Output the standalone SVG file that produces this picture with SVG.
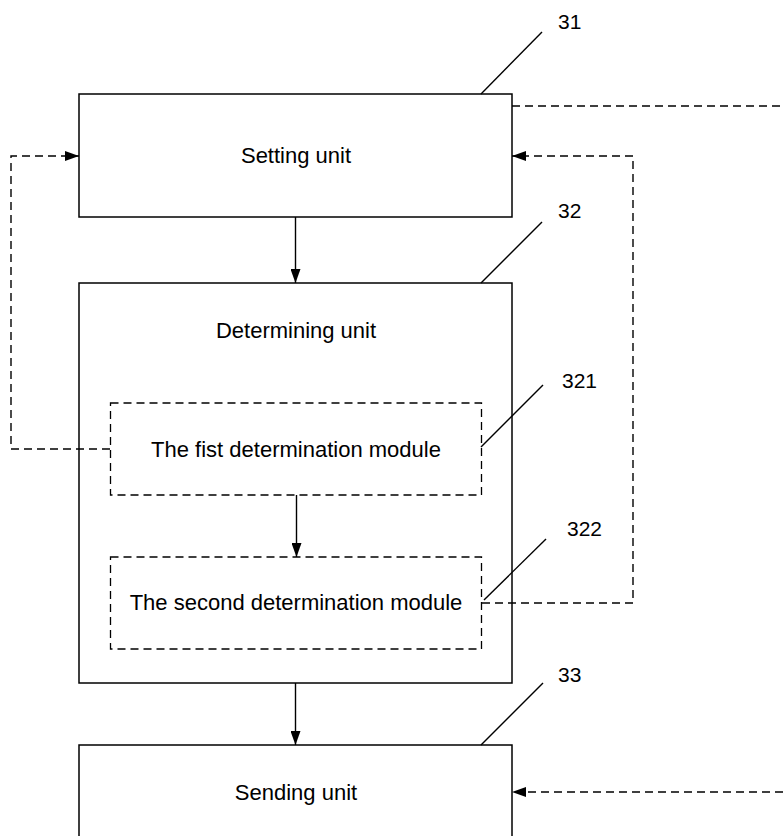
<svg xmlns="http://www.w3.org/2000/svg" width="783" height="836" viewBox="0 0 783 836">
<style>
.box{fill:#fff;stroke:#000;stroke-width:1.5}
.mod{fill:none;stroke:#000;stroke-width:1.3;stroke-dasharray:8,5}
.t{font-family:"Liberation Sans",Arial,sans-serif;font-size:22px;fill:#000;text-anchor:middle}
.n{font-family:"Liberation Sans",Arial,sans-serif;font-size:21px;fill:#000}
.ln{fill:none;stroke:#000;stroke-width:1.4}
.dl{fill:none;stroke:#000;stroke-width:1.4;stroke-dasharray:8,5}
</style>
<defs>
<marker id="ah" viewBox="0 0 14 10" refX="14" refY="5" markerWidth="14" markerHeight="10" markerUnits="userSpaceOnUse" orient="auto">
<path d="M0,0 L14,5 L0,10 Z" fill="#000"/>
</marker>
</defs>
<rect width="783" height="836" fill="#fff"/>
<g id="n31">
<rect class="box" x="79" y="94" width="433" height="123"/>
<text class="t" x="296" y="163">Setting unit</text>
<line class="ln" x1="481" y1="94" x2="542" y2="32"/>
<text class="n" x="558" y="29">31</text>
</g>
<g id="n32">
<rect class="box" x="79" y="283" width="433" height="400"/>
<text class="t" x="296" y="338">Determining unit</text>
<line class="ln" x1="481" y1="283" x2="542" y2="222"/>
<text class="n" x="558" y="218">32</text>
</g>
<g id="n321">
<rect class="mod" x="110.5" y="403" width="371" height="92"/>
<text class="t" x="296" y="457">The fist determination module</text>
<line class="ln" x1="481" y1="447" x2="543" y2="385"/>
<text class="n" x="562" y="388">321</text>
</g>
<g id="n322">
<rect class="mod" x="110.5" y="557" width="371" height="92"/>
<text class="t" x="296" y="610">The second determination module</text>
<line class="ln" x1="484" y1="600" x2="546" y2="539"/>
<text class="n" x="567" y="536">322</text>
</g>
<g id="n33">
<rect class="box" x="79" y="745" width="433" height="110"/>
<text class="t" x="296" y="800">Sending unit</text>
<line class="ln" x1="481" y1="745" x2="543" y2="683"/>
<text class="n" x="558" y="682">33</text>
</g>
<g id="connectors">
<line class="ln" x1="295.5" y1="217" x2="295.5" y2="283" marker-end="url(#ah)"/>
<line class="ln" x1="296.5" y1="495" x2="296.5" y2="557" marker-end="url(#ah)"/>
<line class="ln" x1="295.5" y1="683" x2="295.5" y2="745" marker-end="url(#ah)"/>
<path class="dl" d="M110,449 H11 V156 H79" marker-end="url(#ah)"/>
<path class="dl" d="M482,603 H633 V156 H512" marker-end="url(#ah)"/>
<line class="dl" x1="512" y1="106" x2="783" y2="106"/>
<line class="dl" x1="783" y1="792" x2="512" y2="792" marker-end="url(#ah)"/>
</g>
</svg>
